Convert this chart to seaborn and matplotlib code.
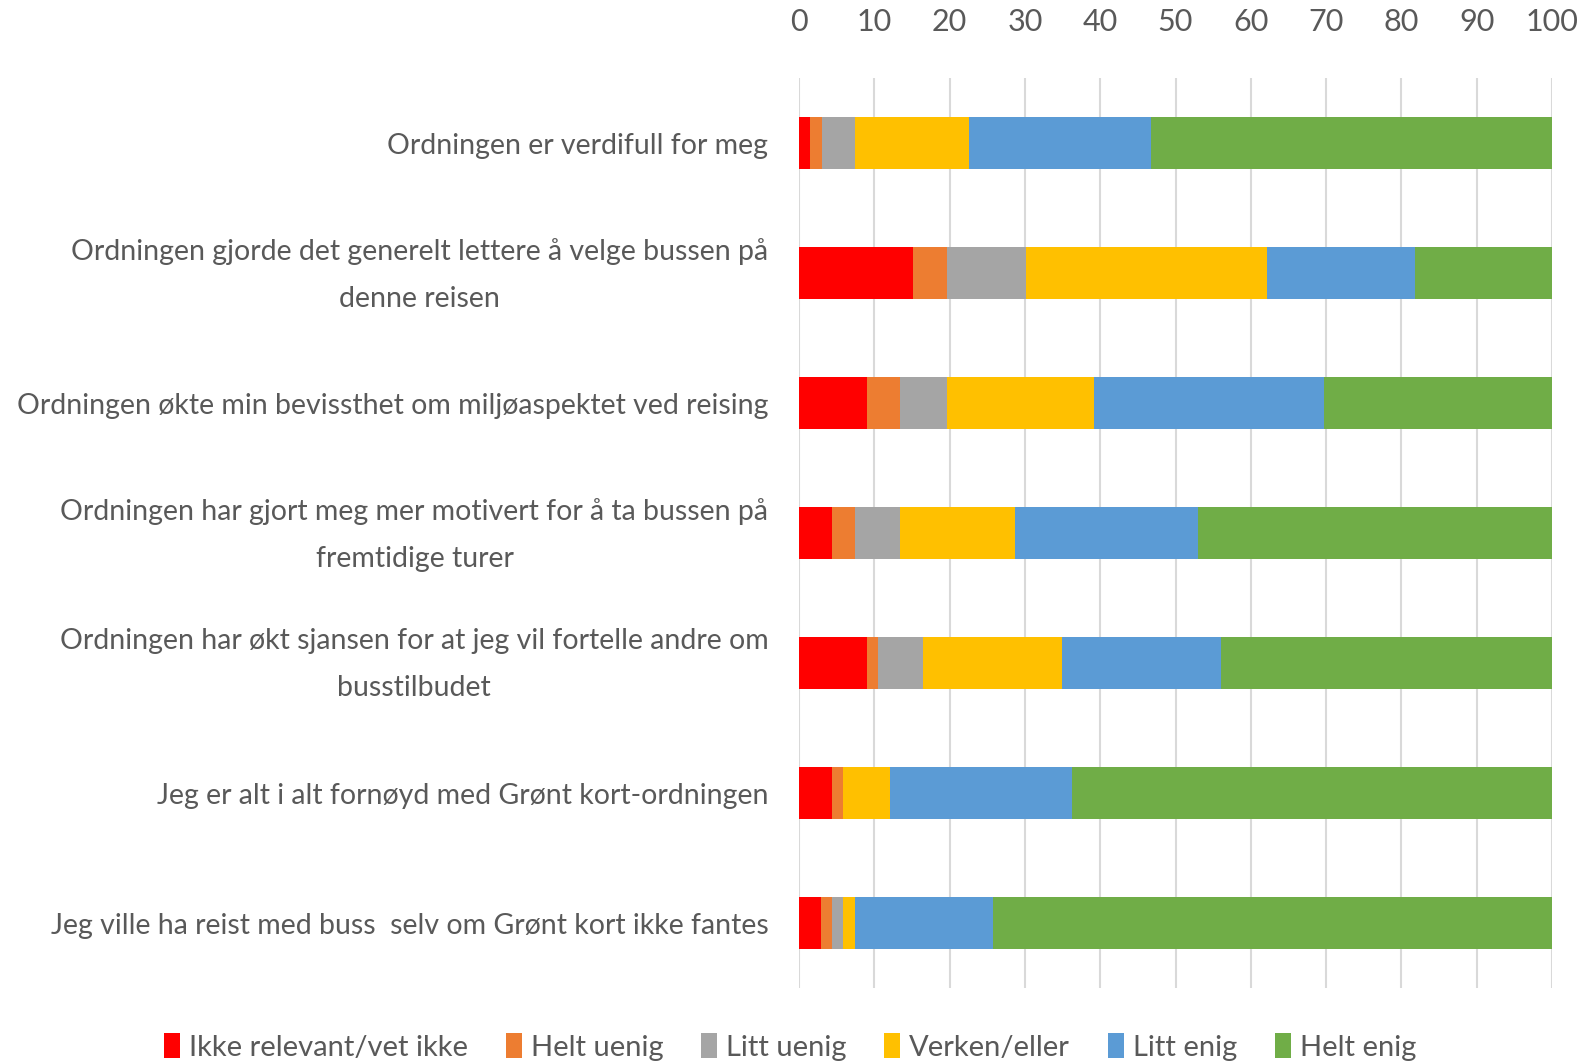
import matplotlib
matplotlib.use('Agg')
import matplotlib.pyplot as plt
from matplotlib.patches import Patch
import matplotlib.transforms as mtransforms
import numpy as np
import pandas as pd
import seaborn as sns

statements = ['Ordningen er verdifull for meg',
              'Ordningen gjorde det generelt lettere å velge bussen på\ndenne reisen',
              'Ordningen økte min bevissthet om miljøaspektet ved reising',
              'Ordningen har gjort meg mer motivert for å ta bussen på\nfremtidige turer',
              'Ordningen har økt sjansen for at jeg vil fortelle andre om\nbusstilbudet',
              'Jeg er alt i alt fornøyd med Grønt kort-ordningen',
              'Jeg ville ha reist med buss  selv om Grønt kort ikke fantes']

ikke_relevant = [1.5, 15.1, 9.0, 4.4, 9.0, 4.4, 2.9]
helt_uenig = [1.5, 4.5, 4.4, 3.0, 1.5, 1.5, 1.5]
litt_uenig = [4.5, 10.6, 6.2, 6.0, 6.0, 0.0, 1.5]
verken_eller = [15.1, 32.0, 19.6, 15.3, 18.4, 6.2, 1.6]
litt_enig = [24.2, 19.6, 30.5, 24.3, 21.2, 24.2, 18.2]
helt_enig = [53.2, 18.2, 30.3, 47.0, 43.9, 63.7, 74.3]

series_names = ['Ikke relevant/vet ikke', 'Helt uenig', 'Litt uenig',
                'Verken/eller', 'Litt enig', 'Helt enig']
colors = ['#FF0000', '#ED7D31', '#A5A5A5', '#FFC000', '#5B9BD5', '#70AD47']
xticks = [0, 10, 20, 30, 40, 50, 60, 70, 80, 90, 100]

df = pd.DataFrame({'statement': statements})
for name, vals in zip(series_names, [ikke_relevant, helt_uenig, litt_uenig,
                                     verken_eller, litt_enig, helt_enig]):
    df[name] = vals
# cumulative sums so that overlaid bars look stacked
cum = df[series_names].cumsum(axis=1)
cum['statement'] = df['statement']

sns.set_style('white')
plt.rcParams['font.family'] = ['Lato', 'DejaVu Sans']
txt = '#595959'
fs = 20.5

fig = plt.figure(figsize=(15.8, 10.64), dpi=100)
ax = fig.add_axes([799/1580, 1 - 988/1064, 753/1580, 910/1064])

for name, col in reversed(list(zip(series_names, colors))):
    sns.barplot(data=cum, x=name, y='statement', orient='h', color=col,
                saturation=1, width=0.4, errorbar=None, linewidth=0, ax=ax)

ax.set_xlim(0, 100)
ax.set_ylim(6.5, -0.5)
ax.set_xticks(xticks)
ax.xaxis.tick_top()
ax.tick_params(axis='x', length=0, pad=30, labelsize=fs + 1.5, labelcolor=txt)
ax.tick_params(axis='y', length=0, pad=22, labelsize=fs, labelcolor=txt)
up = mtransforms.ScaledTranslation(0, 8/72, fig.dpi_scale_trans)
for lbl in ax.get_yticklabels():
    lbl.set_multialignment('center')
    lbl.set_linespacing(2.0)
    if '\n' in lbl.get_text():
        lbl.set_transform(lbl.get_transform() + up)
ax.set_xlabel('')
ax.set_ylabel('')
ax.grid(axis='x', color='#D9D9D9', linewidth=1.5)
ax.set_axisbelow(True)
for s in ax.spines.values():
    s.set_visible(False)

handles = [Patch(facecolor=c, edgecolor='none', label=n) for n, c in zip(series_names, colors)]
fig.legend(handles=handles, loc='center', bbox_to_anchor=(0.5, 1 - 1047/1064), ncol=6,
           frameon=False, fontsize=fs + 0.5, labelcolor=txt, handlelength=0.55, handleheight=0.9,
           handletextpad=0.3, columnspacing=1.3)

fig.savefig('out.png', dpi=100)
